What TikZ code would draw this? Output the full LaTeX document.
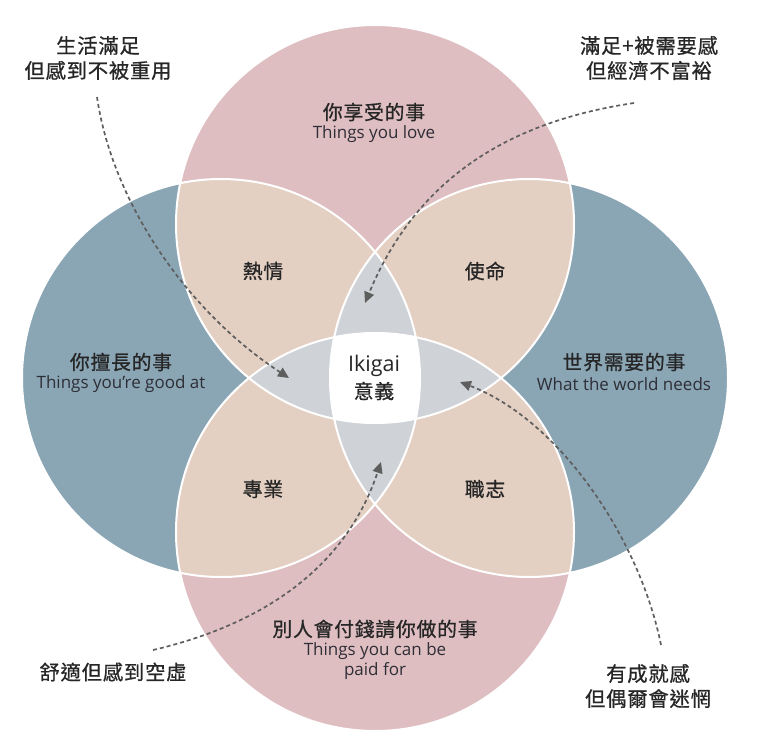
\documentclass[tikz,border=0pt]{standalone}
\usepackage{fontspec}
\setmainfont{Open Sans}
\newfontfamily\cjk[FakeBold=0.8,LetterSpace=4]{Noto Sans CJK TC}
\usetikzlibrary{arrows.meta}
\definecolor{pinkc}{HTML}{DFBEC2}
\definecolor{bluec}{HTML}{8AA6B5}
\definecolor{peachc}{HTML}{E4D0C3}
\definecolor{grayc}{HTML}{CFD3D7}
\definecolor{txt}{HTML}{262626}
\definecolor{entxt}{HTML}{2E2E36}
\definecolor{arr}{HTML}{5E5E5E}
\tikzset{
  cjklab/.style={font=\cjk\fontsize{19.8}{22}\selectfont, text=txt, inner sep=0pt},
  enlab/.style={font=\fontsize{17}{20}\selectfont, text=entxt, inner sep=0pt},
  note/.style={font=\cjk\fontsize{20.3}{25}\selectfont, text=txt, inner sep=0pt, align=center},
  ring/.style={draw=white, line width=2pt},
  dasharrow/.style={draw=arr, line width=1.7pt, dash pattern=on 4pt off 3pt, -{Triangle[width=10pt,length=11pt]}},
}
\begin{document}
\begin{tikzpicture}[x=1pt,y=-1pt]
\useasboundingbox (0,0) rectangle (768,750);
\def\R{199pt}
\coordinate (cT) at (375,224);
\coordinate (cB) at (375,532);
\coordinate (cL) at (221,378);
\coordinate (cR) at (529,378);
% base circles
\fill[pinkc] (cT) circle (\R);
\fill[pinkc] (cB) circle (\R);
\fill[bluec] (cL) circle (\R);
\fill[bluec] (cR) circle (\R);
% two-circle overlaps
\begin{scope}\clip (cT) circle (\R);
  \fill[peachc] (cL) circle (\R); \fill[peachc] (cR) circle (\R);
\end{scope}
\begin{scope}\clip (cB) circle (\R);
  \fill[peachc] (cL) circle (\R); \fill[peachc] (cR) circle (\R);
\end{scope}
% three-circle overlaps
\begin{scope}\clip (cL) circle (\R); \clip (cR) circle (\R);
  \fill[grayc] (cT) circle (\R); \fill[grayc] (cB) circle (\R);
\end{scope}
\begin{scope}\clip (cT) circle (\R); \clip (cB) circle (\R);
  \fill[grayc] (cL) circle (\R); \fill[grayc] (cR) circle (\R);
\end{scope}
% four-circle overlap
\begin{scope}\clip (cT) circle (\R); \clip (cB) circle (\R); \clip (cL) circle (\R);
  \fill[white] (cR) circle (\R);
\end{scope}
% white outlines
\draw[ring] (cT) circle (\R);
\draw[ring] (cB) circle (\R);
\draw[ring] (cL) circle (\R);
\draw[ring] (cR) circle (\R);

% region labels
\node[cjklab] (love) at (374,112) {你享受的事};
\node[enlab] (loveE) at (374,134) {Things you love};
\node[cjklab] (good) at (121,362) {你擅長的事};
\node[enlab] (goodE) at (121,384) {Things you’re good at};
\node[cjklab] (need) at (624,362) {世界需要的事};
\node[enlab] (needE) at (624,384) {What the world needs};
\node[cjklab] (paid) at (375,629) {別人會付錢請你做的事};
\node[enlab] (paidE1) at (375,651) {Things you can be};
\node[enlab] (paidE2) at (375,671) {paid for};
\node[cjklab] (passion) at (263,271) {熱情};
\node[cjklab] (mission) at (485,271) {使命};
\node[cjklab] (profession) at (263,489) {專業};
\node[cjklab] (vocation) at (485,489) {職志};
\node[font=\fontsize{21.5}{24}\selectfont, text=txt, inner sep=0pt] (ikigai) at (374,366) {Ikigai};
\node[cjklab] (yiyi) at (374,391) {意義};

% notes
\node[note] (n1) at (98,58) {生活滿足\\但感到不被重用};
\node[note] (n2) at (649,58) {滿足+被需要感\\但經濟不富裕};
\node[note] (n3) at (113,672) {舒適但感到空虛};
\node[note] (n4) at (648,686) {有成就感\\但偶爾會迷惘};

% arrows
\coordinate (s1) at (97,97);   \coordinate (e1) at (289,378);
\coordinate (s2) at (634,103); \coordinate (e2) at (365,303);
\coordinate (s3) at (153,650); \coordinate (e3) at (381,462);
\coordinate (s4) at (661,645); \coordinate (e4) at (460,382);
\draw[dasharrow] (s1) .. controls (112,200) and (185,310) .. (e1);
\draw[dasharrow] (s2) .. controls (520,120) and (420,170) .. (e2);
\draw[dasharrow] (s3) .. controls (260,625) and (345,570) .. (e3);
\draw[dasharrow] (s4) .. controls (640,540) and (560,420) .. (e4);
\end{tikzpicture}
\end{document}
